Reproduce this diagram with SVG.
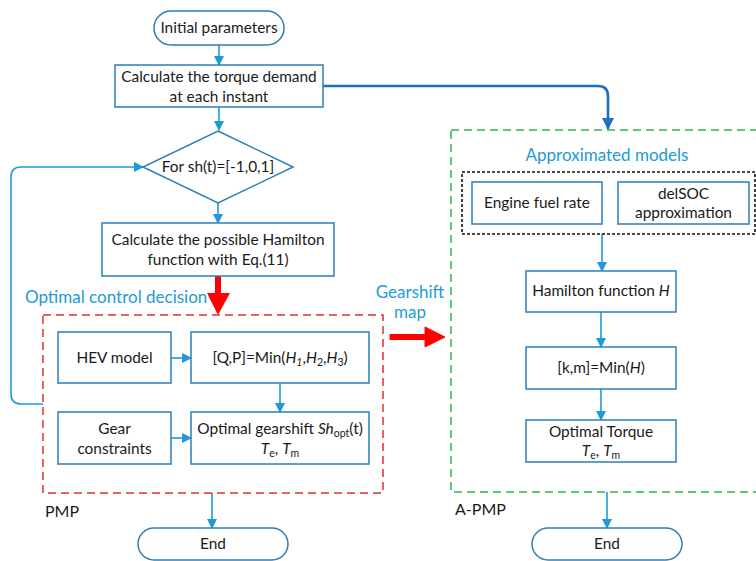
<svg xmlns="http://www.w3.org/2000/svg" width="756" height="561" viewBox="0 0 756 561">
<defs>
<style>
.bx{fill:#fff;stroke:#2d7db8;stroke-width:1.5}
.t{font-family:Lato,"Open Sans","Liberation Sans",sans-serif;font-size:15.4px;fill:#1a1a1a;text-anchor:middle}
.lb{font-family:Lato,"Open Sans","Liberation Sans",sans-serif;font-size:17px;fill:#1e9ad6}
.k{font-family:Lato,"Open Sans","Liberation Sans",sans-serif;font-size:16px;fill:#1a1a1a}
.c{fill:none;stroke:#1e9ad6;stroke-width:1.6}
.i{font-style:italic}
</style>
<marker id="ah" markerWidth="10" markerHeight="10" refX="9" refY="5" orient="auto" markerUnits="userSpaceOnUse" viewBox="0 0 10 10">
<path d="M0,0 L10,5 L0,10 z" fill="#1e9ad6"/>
</marker>
<marker id="ah2" markerWidth="12" markerHeight="12" refX="11" refY="6" orient="auto" markerUnits="userSpaceOnUse" viewBox="0 0 12 12">
<path d="M0,0 L12,6 L0,12 z" fill="#1f6fbf"/>
</marker>
</defs>
<rect width="756" height="561" fill="#fff"/>

<g id="connectors">
<line class="c" x1="219" y1="45" x2="219" y2="65" marker-end="url(#ah)"/>
<line class="c" x1="219" y1="107" x2="219" y2="130" marker-end="url(#ah)"/>
<line class="c" x1="218" y1="203" x2="218" y2="223" marker-end="url(#ah)"/>
<path d="M323,86 H598 Q608,86 608,96 V129" fill="none" stroke="#1f6fbf" stroke-width="2.6" marker-end="url(#ah2)"/>
<path class="c" d="M43,404 H21 Q11,404 11,394 V177 Q11,167 21,167 H143" marker-end="url(#ah)"/>
<line class="c" x1="171" y1="358" x2="191" y2="358" marker-end="url(#ah)"/>
<line class="c" x1="280" y1="383" x2="280" y2="412" marker-end="url(#ah)"/>
<line class="c" x1="171" y1="438" x2="191" y2="438" marker-end="url(#ah)"/>
<line class="c" x1="212" y1="493" x2="212" y2="528" marker-end="url(#ah)"/>
<line class="c" x1="602" y1="234" x2="602" y2="271" marker-end="url(#ah)"/>
<line class="c" x1="601" y1="312" x2="601" y2="347" marker-end="url(#ah)"/>
<line class="c" x1="601" y1="389" x2="601" y2="420" marker-end="url(#ah)"/>
<line class="c" x1="607" y1="492" x2="607" y2="528" marker-end="url(#ah)"/>
<path d="M215,276 H221 V293 H230 L218,315 L207,293 H215 Z" fill="#ff0000"/>
<path d="M390,334.5 H425 V327 L445,337 L425,347 V339.5 H390 Z" fill="#ff0000" stroke="#ff0000" stroke-width="1" stroke-linejoin="round"/>
</g>

<g id="start">
<rect class="bx" x="154" y="11" width="130" height="34" rx="17"/>
<text class="t" x="219" y="33">Initial parameters</text>
</g>
<g id="torque">
<rect class="bx" x="115" y="65" width="208" height="42"/>
<text class="t" x="219" y="82">Calculate the torque demand</text>
<text class="t" x="219" y="102">at each instant</text>
</g>
<g id="decision">
<path class="bx" d="M218,131 L293,167 L218,203 L143,167 Z"/>
<text class="t" x="218" y="172">For sh(t)=[-1,0,1]</text>
</g>
<g id="hamilton-calc">
<rect class="bx" x="102" y="223" width="232" height="53"/>
<text class="t" x="218" y="245">Calculate the possible Hamilton</text>
<text class="t" x="218" y="265">function with Eq.(11)</text>
</g>
<text class="lb" x="25" y="303">Optimal control decision</text>

<g id="pmp">
<rect x="43" y="315" width="340" height="178" fill="none" stroke="#e0302c" stroke-width="1.5" stroke-dasharray="8,5"/>
<text class="k" x="45" y="517">PMP</text>
</g>
<g id="hev">
<rect class="bx" x="58" y="332" width="113" height="51"/>
<text class="t" x="114.5" y="363">HEV model</text>
</g>
<g id="minqp">
<rect class="bx" x="191" y="332" width="178" height="51"/>
<text class="t" x="280" y="363">[Q,P]=Min(<tspan class="i">H</tspan><tspan class="i" font-size="10.5" dy="3">1</tspan><tspan dy="-3">,</tspan><tspan class="i">H</tspan><tspan font-size="10.5" dy="3">2</tspan><tspan dy="-3">,</tspan><tspan class="i">H</tspan><tspan font-size="10.5" dy="3">3</tspan><tspan dy="-3">)</tspan></text>
</g>
<g id="gear">
<rect class="bx" x="58" y="412" width="113" height="52"/>
<text class="t" x="114.5" y="434">Gear</text>
<text class="t" x="114.5" y="454">constraints</text>
</g>
<g id="optgear">
<rect class="bx" x="191" y="412" width="178" height="52"/>
<text class="t" x="280" y="434">Optimal gearshift <tspan class="i">Sh</tspan><tspan font-size="10.5" dy="3">opt</tspan><tspan dy="-3">(t)</tspan></text>
<text class="t" x="280" y="454"><tspan class="i">T</tspan><tspan font-size="10.5" dy="3">e</tspan><tspan dy="-3">, </tspan><tspan class="i">T</tspan><tspan font-size="10.5" dy="3">m</tspan></text>
</g>
<g id="end1">
<rect class="bx" x="138" y="528" width="150" height="32" rx="16"/>
<text class="t" x="213" y="549">End</text>
</g>

<g id="gearshift-map">
<text class="lb" x="410" y="298" text-anchor="middle">Gearshift</text>
<text class="lb" x="410" y="318" text-anchor="middle">map</text>
</g>

<g id="apmp">
<rect x="451" y="130" width="312" height="362" fill="none" stroke="#2db84a" stroke-width="1.5" stroke-dasharray="8,5"/>
<text class="k" x="455" y="515">A-PMP</text>
<text class="lb" x="607" y="161" text-anchor="middle">Approximated models</text>
</g>
<g id="approx-models">
<rect x="462" y="172" width="293" height="62" fill="none" stroke="#111" stroke-width="1.6" stroke-dasharray="3,2"/>
</g>
<g id="engine">
<rect class="bx" x="472" y="182" width="130" height="42"/>
<text class="t" x="537" y="208">Engine fuel rate</text>
</g>
<g id="delsoc">
<rect class="bx" x="618" y="182" width="131" height="42"/>
<text class="t" x="683.5" y="199">delSOC</text>
<text class="t" x="683.5" y="218">approximation</text>
</g>
<g id="hfunc">
<rect class="bx" x="526" y="271" width="150" height="41"/>
<text class="t" x="601" y="296">Hamilton function  <tspan class="i">H</tspan></text>
</g>
<g id="minkm">
<rect class="bx" x="526" y="347" width="150" height="42"/>
<text class="t" x="601" y="373">[k,m]=Min(<tspan class="i">H</tspan>)</text>
</g>
<g id="opttorque">
<rect class="bx" x="526" y="420" width="150" height="42"/>
<text class="t" x="601" y="437">Optimal Torque</text>
<text class="t" x="601" y="456"><tspan class="i">T</tspan><tspan font-size="10.5" dy="3">e</tspan><tspan dy="-3">, </tspan><tspan class="i">T</tspan><tspan font-size="10.5" dy="3">m</tspan></text>
</g>
<g id="end2">
<rect class="bx" x="532" y="528" width="150" height="32" rx="16"/>
<text class="t" x="607" y="549">End</text>
</g>
</svg>
